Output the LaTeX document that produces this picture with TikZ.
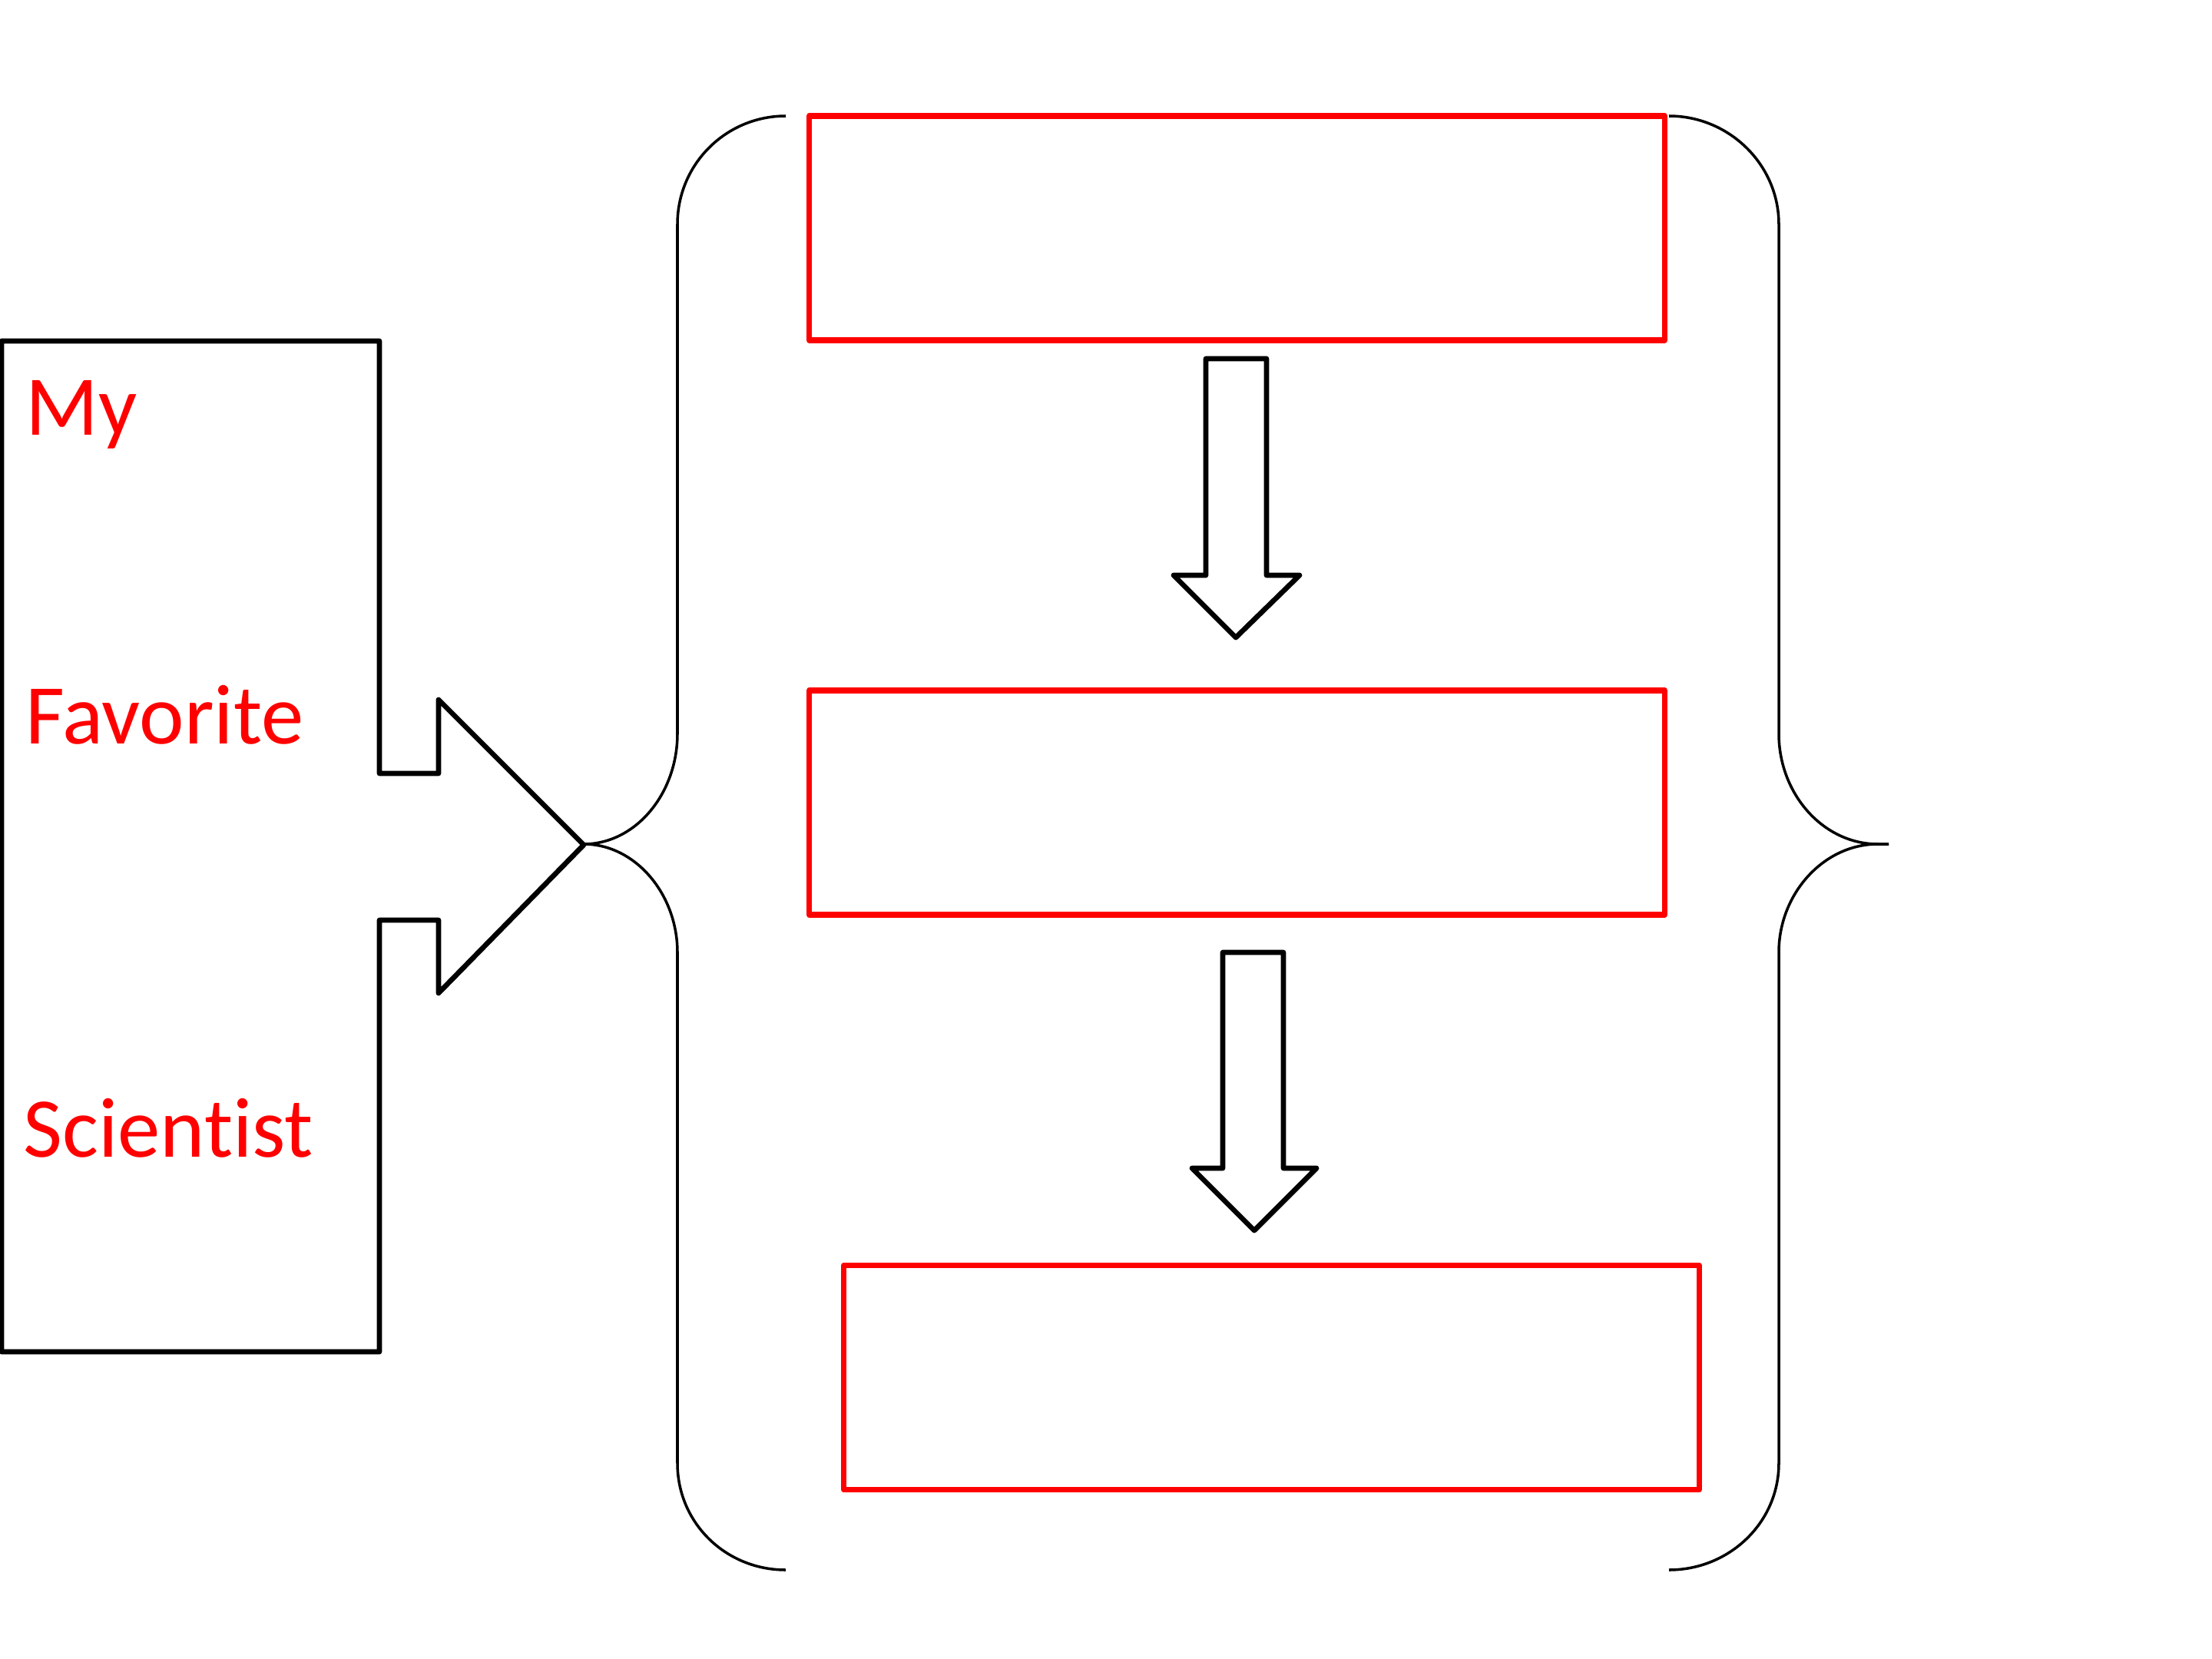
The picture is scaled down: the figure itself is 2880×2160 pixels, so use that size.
\documentclass[tikz,border=0pt]{standalone}
\usepackage{fontspec}
\setmainfont[Ligatures=NoCommon]{Carlito}
\begin{document}
\begin{tikzpicture}[x=0.01cm,y=-0.01cm,
  redbox/.style={draw=red,line width=2.1pt,minimum width=11.13cm,minimum height=2.92cm,inner sep=0pt,line join=round},
  blk/.style={draw=black,line width=1.9pt,line join=round,fill=white},
  brace/.style={draw=black,line width=1pt},
  lbl/.style={text=red,font=\fontsize{31.5}{37}\selectfont,anchor=base west,inner sep=0pt}]
\useasboundingbox (0,0) rectangle (2880,2160);
% red boxes
\node[redbox] (b1) at (1610.5,297) {};
\node[redbox] (b2) at (1610.5,1045) {};
\node[redbox] (b3) at (1655.5,1793.5) {};
% left callout
\path[blk] (2,444) -- (494,444) -- (494,1007) -- (571,1007) -- (571,911) -- (760,1100)
  -- (571,1293) -- (571,1198) -- (494,1198) -- (494,1760) -- (2,1760) -- cycle;
\node[lbl] (t1) at (33,566) {My};
\node[lbl] (t2) at (33,968) {Favorite};
\node[lbl] (t3) at (30,1506) {Scientist};
% down arrows
\path[blk] (1570,467) -- (1649,467) -- (1649,749) -- (1692,749) -- (1609,830) -- (1528,749) -- (1570,749) -- cycle;
\path[blk] (1592,1240) -- (1671,1240) -- (1671,1521) -- (1714,1521) -- (1633,1602) -- (1552,1521) -- (1592,1521) -- cycle;
% left brace
\coordinate (lt) at (1023,151);
\coordinate (lb) at (1023,2044);
\coordinate (lm) at (760,1099);
\draw[brace] (lt) .. controls (945,151) and (882,214) .. (882,292) -- (882,955)
  .. controls (882,1034) and (827,1099) .. (lm)
  .. controls (827,1099) and (882,1164) .. (882,1240) -- (882,1905)
  .. controls (882,1983) and (945,2044) .. (lb);
% right brace
\coordinate (rt) at (2173,151);
\coordinate (rb) at (2173,2044);
\coordinate (rm) at (2459,1099);
\draw[brace] (rt) .. controls (2251,151) and (2316,214) .. (2316,292) -- (2316,955)
  .. controls (2316,1034) and (2374,1099) .. (2445,1099) -- (rm);
\draw[brace] (rm) -- (2445,1099) .. controls (2374,1099) and (2316,1164) .. (2316,1240) -- (2316,1905)
  .. controls (2316,1983) and (2251,2044) .. (rb);
\end{tikzpicture}
\end{document}
